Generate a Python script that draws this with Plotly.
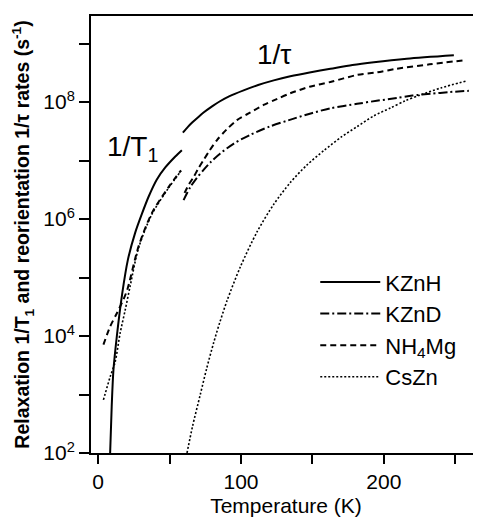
import plotly.graph_objects as go

# ---- data (temperature in K, rates in s^-1) ----
kznh_t1_T = [8.4, 9.5, 10.7, 13.1, 16.8, 20.8, 25.9, 30.5, 35.3, 41, 47, 54, 58.6]
kznh_t1_R = [1.0e2, 6.3e2, 2.6e3, 1.0e4, 5.2e4, 2.0e5, 5.8e5, 1.2e6, 2.4e6, 4.7e6, 7.6e6, 1.17e7, 1.5e7]
kznh_tau_T = [59.3, 63, 66, 70, 73.8, 80, 85, 92, 101.8, 112, 122.9, 134.5, 148, 162.6, 178, 193, 216, 249]
kznh_tau_R = [3.0e7, 3.8e7, 4.5e7, 5.5e7, 6.6e7, 8.5e7, 1.02e8, 1.26e8, 1.58e8, 1.95e8, 2.34e8,
              2.75e8, 3.2e8, 3.7e8, 4.3e8, 4.8e8, 5.5e8, 6.3e8]

kznd_tau_T = [59.8, 64.5, 69, 73.8, 79, 85.5, 95, 106.5, 120, 136.9, 150, 162.6, 181.3, 195, 209,
              220, 232.7, 246, 259.5]
kznd_tau_R = [2.1e6, 3.5e6, 5.0e6, 6.9e6, 9.5e6, 1.32e7, 1.95e7, 2.75e7, 3.8e7, 5.2e7, 6.5e7, 7.8e7,
              9.3e7, 1.05e8, 1.17e8, 1.29e8, 1.38e8, 1.48e8, 1.55e8]

nh4mg_t1_T = [3.7, 8.4, 13.1, 17.7, 20.5, 28.3, 37.6, 49.3, 58]
nh4mg_t1_R = [7.1e3, 1.45e4, 2.45e4, 4.2e4, 6.3e4, 3.4e5, 1.26e6, 3.5e6, 6.8e6]
nh4mg_tau_T = [60.5, 63.5, 66.8, 70, 73.8, 78, 83.2, 90, 97.2, 105, 115.8, 125, 134.5, 148, 162.6,
               181.3, 195, 209, 232, 257]
nh4mg_tau_R = [2.8e6, 3.9e6, 5.2e6, 7.2e6, 1.02e7, 1.48e7, 2.24e7, 3.4e7, 4.9e7, 6.3e7, 8.9e7,
               1.12e8, 1.41e8, 1.82e8, 2.2e8, 2.9e8, 3.2e8, 3.7e8, 4.4e8, 5.2e8]

cszn_t1_T = [3.7, 8.4, 11.9, 15.4, 18.9, 22.4, 28.3, 37.6, 49.3, 58]
cszn_t1_R = [8.1e2, 2.0e3, 3.6e3, 1.12e4, 2.75e4, 7.1e4, 3.2e5, 1.2e6, 3.4e6, 6.6e6]
cszn_tau_T = [62.2, 66, 71.5, 76, 80.8, 85, 90.2, 99.5, 111.2, 122.9, 134.5, 146, 158, 170, 181.3,
              193, 204.6, 215, 225.6, 240, 258]
cszn_tau_R = [1.0e2, 2.8e2, 1.0e3, 2.8e3, 7.6e3, 1.66e4, 4.0e4, 1.51e5, 6.0e5, 1.78e6, 4.2e6, 8.3e6,
              1.48e7, 2.5e7, 3.8e7, 5.8e7, 7.9e7, 1.05e8, 1.32e8, 1.74e8, 2.3e8]

x_tickvals = [0, 50, 100, 150, 200, 250]
x_ticktext = ["0", "", "100", "", "200", ""]
y_tickvals = [1e2, 1e3, 1e4, 1e5, 1e6, 1e7, 1e8, 1e9]
y_ticktext = ["10<sup>2</sup>", "", "10<sup>4</sup>", "", "10<sup>6</sup>", "", "10<sup>8</sup>", ""]

FONT = "Liberation Sans, Arial, Helvetica, sans-serif"

styles = {
    "KZnH": dict(color="black", width=2, dash="solid"),
    "KZnD": dict(color="black", width=2, dash="9px,3px,2px,3px"),
    "NH4Mg": dict(color="black", width=2, dash="6px,4px"),
    "CsZn": dict(color="black", width=1.6, dash="2px,2px"),
}

fig = go.Figure()

def add(T, R, key, name, show):
    fig.add_trace(go.Scatter(
        x=T, y=R, mode="lines", name=name, legendgroup=key, showlegend=show,
        line=dict(shape="spline", smoothing=0.8, **styles[key]),
    ))

add(kznh_t1_T, kznh_t1_R, "KZnH", "KZnH", True)
add(kznh_tau_T, kznh_tau_R, "KZnH", "KZnH", False)
add(kznd_tau_T, kznd_tau_R, "KZnD", "KZnD", True)
add(nh4mg_t1_T, nh4mg_t1_R, "NH4Mg", "NH<sub>4</sub>Mg", True)
add(nh4mg_tau_T, nh4mg_tau_R, "NH4Mg", "NH<sub>4</sub>Mg", False)
add(cszn_t1_T, cszn_t1_R, "CsZn", "CsZn", False)
add(cszn_tau_T, cszn_tau_R, "CsZn", "CsZn", True)

fig.add_annotation(x=5, y=7.2, xref="x", yref="y", text="1/T<sub>1</sub>",
                   showarrow=False, xanchor="left", yanchor="middle",
                   font=dict(family=FONT, size=28, color="black"))
fig.add_annotation(x=110, y=8.82, xref="x", yref="y", text="1/τ",
                   showarrow=False, xanchor="left", yanchor="middle",
                   font=dict(family=FONT, size=28, color="black"))

# the page body adds an 8px offset, so the figure is sized/margined to compensate
fig.update_layout(
    template="none",
    width=473, height=511,
    margin=dict(l=83, r=0, t=8, b=66, autoexpand=False),
    paper_bgcolor="white", plot_bgcolor="white",
    font=dict(family=FONT, size=21, color="black"),
    showlegend=True,
    legend=dict(x=0.575, y=0.439, xanchor="left", yanchor="top",
                bgcolor="rgba(0,0,0,0)", borderwidth=0, font=dict(family=FONT, size=22),
                itemwidth=60, tracegroupgap=0),
    xaxis=dict(range=[-5, 268], tickmode="array", tickvals=x_tickvals, ticktext=x_ticktext,
               ticks="outside", ticklen=9, tickwidth=1.5, tickcolor="black",
               showline=True, linecolor="black", linewidth=2, mirror=True,
               showgrid=False, zeroline=False, automargin=False,
               title=dict(text="Temperature (K)", font=dict(family=FONT, size=21), standoff=6),
               tickfont=dict(family=FONT, size=21)),
    yaxis=dict(type="log", range=[2, 9.47], tickmode="array", tickvals=y_tickvals, ticktext=y_ticktext,
               ticks="outside", ticklen=10, tickwidth=1.5, tickcolor="black",
               showline=True, linecolor="black", linewidth=2, mirror=False,
               showgrid=False, zeroline=False, automargin=False,
               title=dict(text="<b>Relaxation 1/T<sub>1</sub> and reorientation 1/τ rates (s<sup>-1</sup>)</b>",
                          font=dict(family=FONT, size=19.5), standoff=8),
               tickfont=dict(family=FONT, size=21)),
)

fig.write_html("out.html")
